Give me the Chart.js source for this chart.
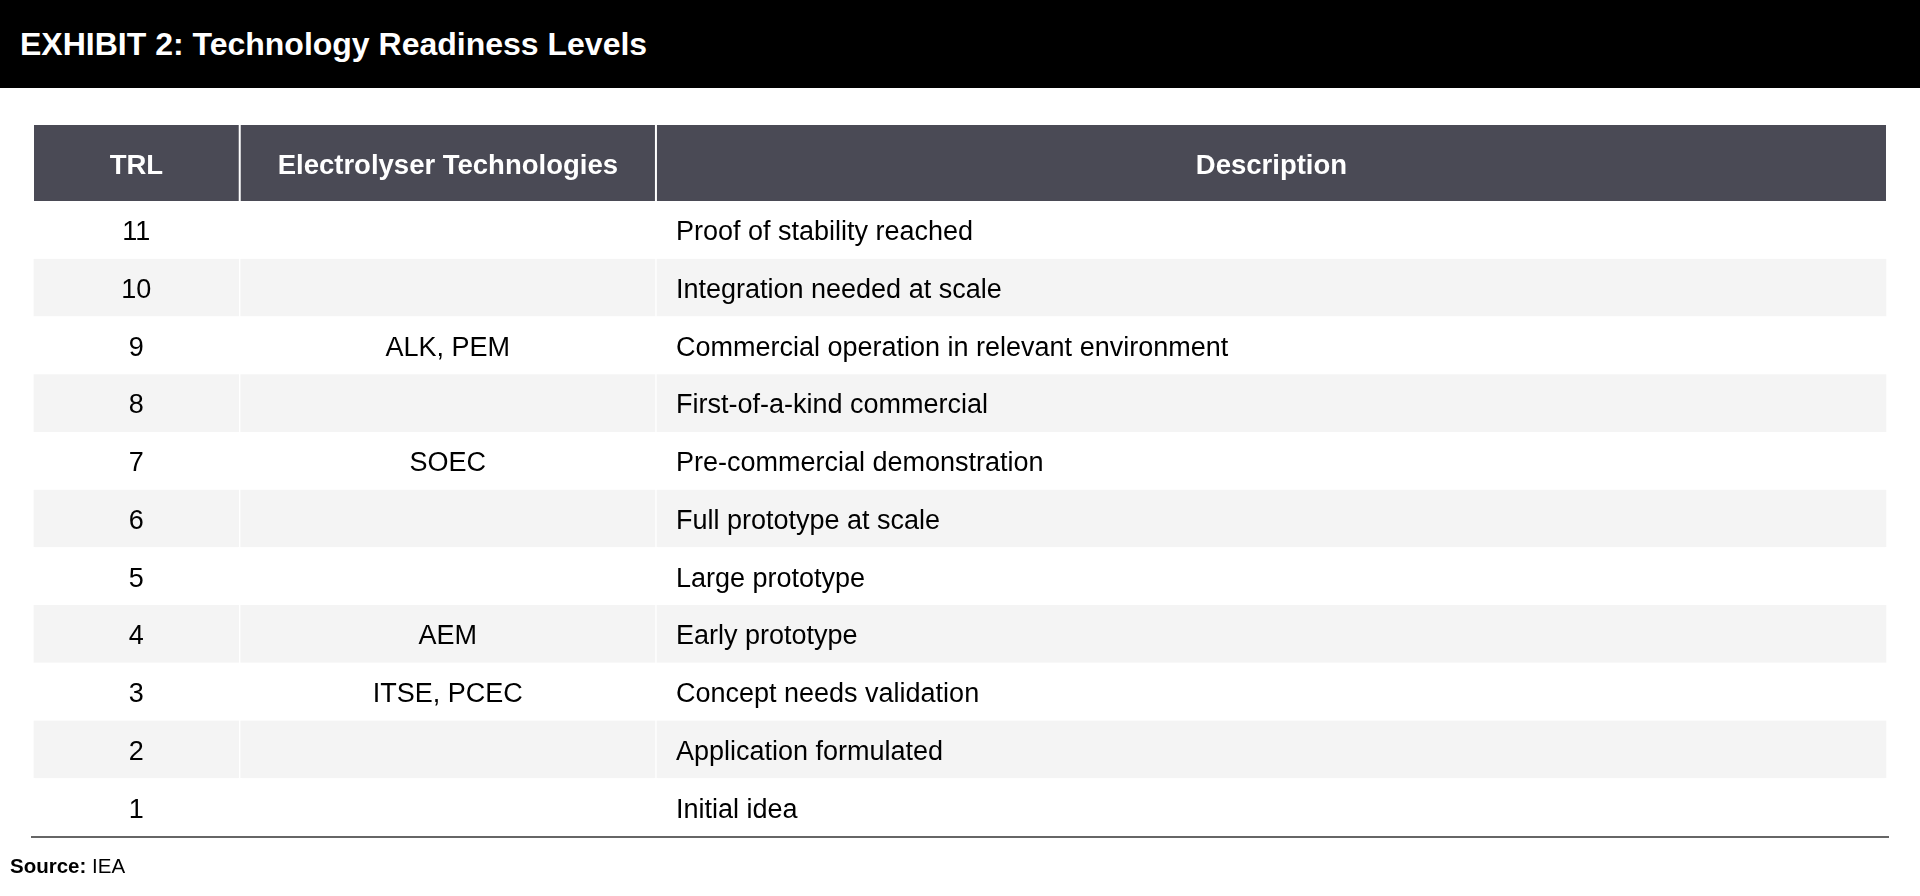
<!DOCTYPE html>
<html>
<head>
<meta charset="utf-8">
<script src="https://cdn.jsdelivr.net/npm/chart.js@4.4.1/dist/chart.umd.min.js"></script>
<style>
  html, body { margin: 0; padding: 0; background: #fff; }
  #wrap { position: relative; width: 1920px; height: 896px; }
  #title { position: absolute; left: 0; top: 0; width: 1920px; height: 88px; background: #000; color: #fff;
           font: bold 32px "Liberation Sans", Arial, sans-serif; line-height: 88px; padding-left: 20px; box-sizing: border-box; }
  #source { position: absolute; left: 10px; top: 854px; font: 20.5px "Liberation Sans", Arial, sans-serif; color: #000; }
</style>
</head>
<body>
<div id="wrap">
  <div id="title">EXHIBIT 2: Technology Readiness Levels</div>
  <canvas id="tbl" width="1920" height="896"></canvas>
  <div id="source"><b>Source:</b> IEA</div>
</div>
<script>
// table content
const headers = ['TRL', 'Electrolyser Technologies', 'Description'];
const trl = ['11', '10', '9', '8', '7', '6', '5', '4', '3', '2', '1'];
const tech = ['', '', 'ALK, PEM', '', 'SOEC', '', '', 'AEM', 'ITSE, PCEC', '', ''];
const desc = ['Proof of stability reached', 'Integration needed at scale', 'Commercial operation in relevant environment',
  'First-of-a-kind commercial', 'Pre-commercial demonstration', 'Full prototype at scale', 'Large prototype',
  'Early prototype', 'Concept needs validation', 'Application formulated', 'Initial idea'];
// column widths as share of the table
const colWidths = [0.1115, 0.2245, 0.664];

const FONT = '"Liberation Sans", Arial, sans-serif';
const columns = [trl, tech, desc];

const rowBg = trl.map((_, i) => i % 2 ? '#f4f4f4' : '#ffffff');

const tablePlugin = {
    id: 'tableText',
    afterDatasetsDraw(chart) {
        const ctx = chart.ctx;
        const area = chart.chartArea;
        ctx.save();
        // header
        chart.data.datasets.forEach((ds, c) => {
            const el = chart.getDatasetMeta(c).data[0];
            const x0 = el.base, x1 = el.x;
            ctx.fillStyle = '#4a4a55';
            ctx.fillRect(x0 + 1, area.top - 76, x1 - x0 - 2, 76);
            ctx.fillStyle = '#fff';
            ctx.font = 'bold 27.5px ' + FONT;
            ctx.textAlign = 'center';
            ctx.textBaseline = 'middle';
            ctx.fillText(headers[c], (x0 + x1) / 2, area.top - 35);
        });
        // cells
        ctx.fillStyle = '#000';
        ctx.font = '27px ' + FONT;
        ctx.textBaseline = 'middle';
        chart.data.datasets.forEach((ds, c) => {
            chart.getDatasetMeta(c).data.forEach((el, i) => {
                const txt = columns[c][i];
                if (!txt) return;
                if (c === 2) {
                    ctx.textAlign = 'left';
                    ctx.fillText(txt, el.base + 20, el.y + 3);
                } else {
                    ctx.textAlign = 'center';
                    ctx.fillText(txt, (el.base + el.x) / 2, el.y + 3);
                }
            });
        });
        // bottom rule
        ctx.strokeStyle = '#666';
        ctx.lineWidth = 2;
        ctx.beginPath();
        ctx.moveTo(area.left - 2, area.bottom + 1);
        ctx.lineTo(area.right + 2, area.bottom + 1);
        ctx.stroke();
        ctx.restore();
    }
};

new Chart(document.getElementById('tbl'), {
    type: 'bar',
    data: {
        labels: trl,
        datasets: colWidths.map(w => ({
            data: trl.map(() => w),
            backgroundColor: rowBg,
            borderColor: '#ffffff',
            borderWidth: { left: 1, right: 1, top: 0, bottom: 0 },
            borderSkipped: false,
            barPercentage: 1,
            categoryPercentage: 1
        }))
    },
    options: {
        indexAxis: 'y',
        responsive: false,
        animation: false,
        layout: { padding: { left: 33, right: 33, top: 201, bottom: 60 } },
        plugins: { legend: { display: false }, tooltip: { enabled: false } },
        scales: {
            x: { stacked: true, min: 0, max: 1, display: false },
            y: { stacked: true, display: false }
        }
    },
    plugins: [tablePlugin]
});
</script>
</body>
</html>
